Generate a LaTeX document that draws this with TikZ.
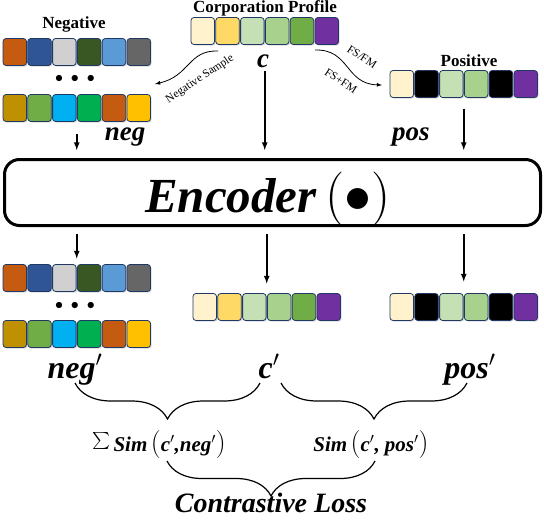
\RequirePackage{fix-cm}
\documentclass[tikz,border=0pt]{standalone}
\usepackage{fontspec}
\setmainfont{Liberation Serif}
\usetikzlibrary{shadows,decorations.pathreplacing}

\definecolor{cellline}{HTML}{1F3864}
\definecolor{cOrange}{HTML}{C55A11}
\definecolor{cBlue}{HTML}{2F5597}
\definecolor{cGray}{HTML}{D0D0D0}
\definecolor{cDkGreen}{HTML}{385723}
\definecolor{cLtBlue}{HTML}{5B9BD5}
\definecolor{cDkGray}{HTML}{666666}
\definecolor{cOlive}{HTML}{BF9000}
\definecolor{cGreen}{HTML}{70AD47}
\definecolor{cCyan}{HTML}{00B0F0}
\definecolor{cEmerald}{HTML}{00B050}
\definecolor{cGold}{HTML}{FFC000}
\definecolor{cCream}{HTML}{FFF2CC}
\definecolor{cYellow}{HTML}{FFD966}
\definecolor{cPale}{HTML}{C5E0B4}
\definecolor{cLtGreen}{HTML}{A9D18E}
\definecolor{cPurple}{HTML}{7030A0}

\tikzset{
    cell/.style={draw=cellline, line width=0.8pt, rounded corners=3pt,
        minimum width=23.5pt, minimum height=27pt, inner sep=0pt,
        drop shadow={shadow xshift=1.2pt, shadow yshift=-1.2pt, opacity=.3}},
    rowbox/.style={inner sep=0pt, outer sep=0pt, minimum width=147.5pt, minimum height=27pt},
    arr/.style={-latex, line width=1.6pt},
    thinarr/.style={-latex, line width=0.8pt},
    brc/.style={decorate, decoration={brace, mirror, amplitude=36pt}, line width=1.2pt},
    title/.style={font=\fontsize{17}{17}\selectfont\bfseries, inner sep=1pt},
    var/.style={font=\fontsize{27}{27}\selectfont\bfseries\itshape, anchor=base, inner sep=1pt},
    bigvar/.style={font=\fontsize{32}{32}\selectfont\bfseries\itshape, anchor=base, inner sep=1pt},
    tag/.style={font=\fontsize{11.5}{11.5}\selectfont, inner sep=1pt},
    simtxt/.style={font=\fontsize{21}{21}\selectfont, anchor=base, inner sep=1pt},
    encbox/.style={draw, line width=3pt, rounded corners=15pt, minimum width=536pt, minimum height=66pt}
}

\newcommand{\cellrow}[4]{%
    \node[rowbox] (#1) at (#2+73.75,#3) {};
    \foreach \clr [count=\i] in {#4}
        \node[cell, fill=\clr] (#1-\i) at (#2+11.75+24.8*\i-24.8,#3) {};
}
\newcommand{\bigpar}[1]{{\fontsize{28}{28}\selectfont$#1$}}
\newcommand{\bi}[1]{{\bfseries\itshape #1}}

\begin{document}
\begin{tikzpicture}[x=1pt,y=-1pt]
    \useasboundingbox (0,0) rectangle (544,520);

    \begin{scope}
        \cellrow{neg1}{3}{52}{cOrange,cBlue,cGray,cDkGreen,cLtBlue,cDkGray}
        \node[font=\fontsize{16}{16}\selectfont] (negdots) at (75,79) {$\bullet\;\bullet\;\bullet$};
        \cellrow{neg2}{3}{108}{cOlive,cGreen,cCyan,cEmerald,cOrange,cGold}
        \node[title] (neglab) at (74,24) {Negative};
        \node[var] (negtxt) at (125,140) {neg};

        \cellrow{corp}{191}{31}{cCream,cYellow,cPale,cLtGreen,cGreen,cPurple}
        \node[title] (corplab) at (265,8.5) {Corporation Profile};
        \node[var] (ctxt) at (263,67) {c};

        \cellrow{posi}{390}{84}{cCream,black,cPale,cLtGreen,black,cPurple}
        \node[title] (poslab) at (469,61) {Positive};
        \node[var] (postxt) at (411,140) {pos};
    \end{scope}

    \coordinate (nsfrom) at (218,51);
    \coordinate (nsto) at (155,84);
    \draw[thinarr] (nsfrom) .. controls (188,50) and (190,76) .. (nsto);
    \node[tag, rotate=33.7] (nslab) at (200,79) {Negative Sample};

    \coordinate (fsfrom) at (315,50);
    \coordinate (fsto) at (382,85);
    \draw[thinarr] (fsfrom) .. controls (350,49) and (345,84) .. (fsto);
    \node[tag, rotate=-33] (fsfm) at (362,57) {FS/FM};
    \node[tag, rotate=-33] (fsplus) at (341,81) {FS+FM};

    \node[encbox] (enc) at (272.5,192.5) {};
    \node[anchor=base, inner sep=0pt] (enctxt) at (268,212)
        {{\fontsize{49}{49}\selectfont\bfseries\itshape Encoder}\hspace{9pt}{\fontsize{54}{54}\selectfont$(\bullet)$}};

    \draw[arr, shorten <=12pt, shorten >=8pt] (neg2.south) -- (neg2.south |- enc.north);
    \draw[arr, shorten <=3pt, shorten >=8pt] (ctxt.south -| corp) -- (corp |- enc.north);
    \draw[arr, shorten <=11pt, shorten >=8pt] (posi.south) -- (posi.south |- enc.north);

    \begin{scope}
        \cellrow{negp1}{3}{278}{cOrange,cBlue,cGray,cDkGreen,cLtBlue,cDkGray}
        \node[font=\fontsize{16}{16}\selectfont] (negpdots) at (75,306) {$\bullet\;\bullet\;\bullet$};
        \cellrow{negp2}{3}{334}{cOlive,cGreen,cCyan,cEmerald,cOrange,cGold}
        \cellrow{corpp}{193}{307}{cCream,cYellow,cPale,cLtGreen,cGreen,cPurple}
        \cellrow{posp}{390}{307}{cCream,black,cPale,cLtGreen,black,cPurple}
    \end{scope}

    \draw[arr, shorten <=7pt, shorten >=6pt] (enc.south -| negp1) -- (negp1.north);
    \draw[arr, shorten <=7pt, shorten >=10pt] (enc.south -| corpp) -- (corpp.north);
    \draw[arr, shorten <=7pt, shorten >=12pt] (enc.south -| posp) -- (posp.north);

    \node[bigvar] (negprime) at (75,378) {neg$'$};
    \node[bigvar] (cprime) at (269,378) {c$'$};
    \node[bigvar] (posprime) at (470,378) {pos$'$};

    \coordinate (b1a) at (75,383);
    \coordinate (b1b) at (260,383);
    \coordinate (b2a) at (281,383);
    \coordinate (b2b) at (467,383);
    \draw[brc] (b1a) -- (b1b);
    \draw[brc] (b2a) -- (b2b);

    \node[simtxt] (simneg) at (159,451)
        {\raisebox{1pt}{\scalebox{1.7}{$\sum$}}\,\bi{Sim}\,\bigpar{(}\bi{c$'$,neg$'$}\bigpar{)}};
    \node[simtxt] (simpos) at (371,451)
        {\bi{Sim}\,\bigpar{(}\bi{c$'$, pos$'$}\bigpar{)}};

    \coordinate (b3a) at (167,461);
    \coordinate (b3b) at (375,461);
    \draw[brc, decoration={amplitude=35pt}] (b3a) -- (b3b);

    \node[anchor=base, font=\fontsize{28}{28}\selectfont\bfseries\itshape] (loss) at (271,512) {Contrastive Loss};
\end{tikzpicture}
\end{document}
